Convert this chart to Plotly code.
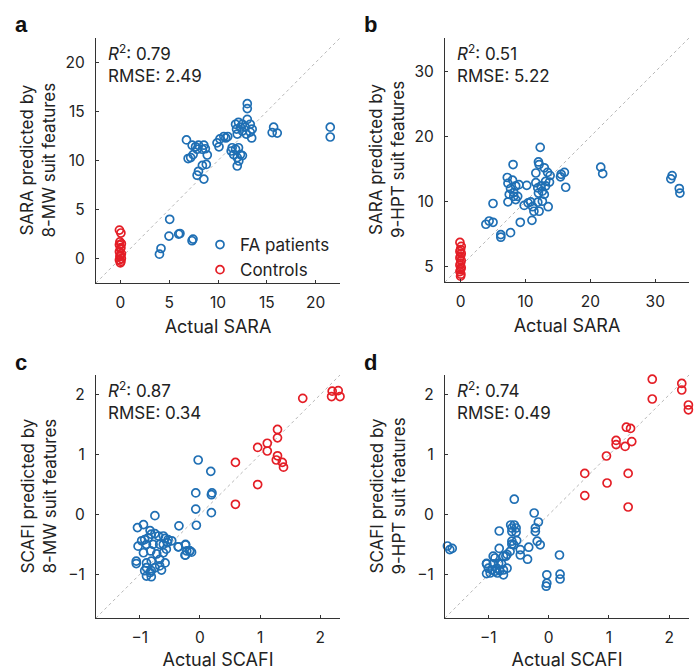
import plotly.graph_objects as go

# ---------------- Data ----------------
# Panel a: SARA predicted by 8-MW suit features
a_fa_x = [4.0, 4.16, 5.05, 4.98, 5.97, 6.1, 7.34, 7.44,
          6.77, 7.35, 7.7, 8.0, 8.55, 7.86, 8.4, 8.7, 7.45, 7.2, 6.94, 8.9, 8.4, 8.8, 8.0, 7.86, 8.55,
          9.9, 10.2, 10.6, 11.0, 10.1, 10.8, 11.45, 11.35, 11.8, 12.1, 11.6, 12.3, 11.97, 12.5, 12.13, 11.97,
          11.8, 12.1, 12.5, 11.9, 12.3, 11.97, 12.5, 12.8, 13.0, 13.0, 13.0, 13.3, 13.5, 13.3, 13.45, 12.9,
          15.7, 15.55, 16.07, 21.5, 21.5]
a_fa_y = [0.44, 1.02, 4.0, 2.29, 2.49, 2.55, 1.81, 1.98,
          12.1, 11.56, 11.4, 11.56, 11.56, 11.15, 11.15, 11.2, 10.6, 10.3, 10.2, 10.56, 9.5, 9.6, 8.9, 8.5, 8.1,
          11.8, 12.2, 12.45, 12.45, 11.4, 12.3, 11.3, 10.97, 11.15, 11.3, 10.6, 10.6, 10.3, 10.5, 9.95, 9.44,
          13.7, 13.9, 13.7, 13.2, 13.4, 12.7, 13.0, 13.4, 15.8, 15.3, 14.2, 13.7, 13.2, 12.9, 12.3, 12.7,
          13.4, 12.85, 12.8, 13.4, 12.4]
a_ct_x = [-0.1, 0.05, -0.05, 0.1, -0.1, 0.05, 0.0, -0.1, 0.1, 0.0, -0.05, 0.1, -0.1, 0.05, 0.0]
a_ct_y = [2.9, 2.6, 1.7, 1.5, 1.4, 1.1, 1.0, 0.7, 0.5, 0.35, 0.2, 0.0, -0.15, -0.3, -0.45]

# Panel b: SARA predicted by 9-HPT suit features
b_fa_x = [12.27, 8.09, 12.0, 12.1, 12.9, 13.4, 11.6, 13.8, 15.5, 16.0, 15.4, 16.2,
          7.2, 7.3, 8.0, 8.5, 9.0, 10.2, 7.7, 8.2, 7.5, 8.8, 8.5, 7.3, 8.2,
          11.6, 11.9, 12.4, 12.6, 13.1, 13.1, 12.0, 12.9, 13.7,
          10.4, 10.8, 9.8, 11.9, 12.6, 11.1, 11.3, 12.1, 13.5, 11.0,
          5.0, 9.2, 7.7, 6.2, 6.2, 4.4, 3.9, 5.0,
          21.6, 21.9, 32.6, 32.4, 33.7, 33.8]
b_fa_y = [18.35, 15.7, 16.1, 15.7, 15.2, 14.5, 14.4, 14.0, 14.2, 14.5, 13.8, 12.2,
          13.7, 12.8, 13.3, 12.4, 12.6, 12.5, 12.0, 11.4, 11.1, 10.8, 10.3, 9.95, 10.8,
          12.9, 12.1, 12.4, 11.6, 13.1, 12.4, 11.3, 11.1, 13.0,
          9.8, 9.95, 9.4, 9.9, 10.05, 9.2, 8.5, 8.5, 9.2, 7.1,
          9.7, 6.8, 5.2, 4.9, 4.5, 7.0, 6.5, 6.8,
          15.3, 14.3, 14.0, 13.5, 12.0, 11.3]
b_ct_x = [-0.1, 0.1, 0.0, -0.1, 0.1, 0.0, -0.1, 0.1, 0.0, -0.1, 0.1, 0.0, -0.1, 0.05, 0.0]
b_ct_y = [3.7, 3.1, 2.6, 2.3, 2.0, 1.6, 1.3, 0.9, 0.5, 0.2, -0.2, -0.5, -0.8, -1.2, -1.5]

# Panel c: SCAFI predicted by 8-MW suit features
c_fa_x = [-0.03, 0.18, -0.07, 0.19, 0.2, -0.07, 0.19, -0.06, -0.35, -0.75, -0.36, -0.24, -0.24, -0.17, -0.14,
          -1.04, -0.94, -0.83, -0.81, -0.75, -0.69, -0.61, -0.58, -0.47, -0.53, -0.86, -0.92, -0.97, -1.03,
          -0.89, -0.78, -0.67, -0.61, -0.54, -0.36, -0.24, -0.22, -0.17, -0.25, -0.94, -0.82, -0.72, -0.61,
          -0.56, -1.06, -1.06, -0.89, -0.81, -0.67, -0.58, -0.89, -0.83, -0.89, -0.81, -0.75, -0.64, -0.67,
          -0.81, -0.92]
c_fa_y = [0.91, 0.72, 0.36, 0.33, 0.36, 0.09, 0.03, -0.18, -0.19, -0.02, -0.54, -0.51, -0.68, -0.61, -0.63,
          -0.22, -0.17, -0.27, -0.33, -0.32, -0.36, -0.36, -0.4, -0.44, -0.42, -0.39, -0.42, -0.44, -0.53,
          -0.5, -0.5, -0.5, -0.5, -0.47, -0.54, -0.5, -0.61, -0.61, -0.68, -0.64, -0.61, -0.66, -0.64,
          -0.58, -0.78, -0.82, -0.81, -0.78, -0.75, -0.81, -0.89, -0.97, -1.03, -0.94, -0.89, -0.93, -0.86,
          -1.04, -0.94]
c_ct_x = [2.2, 2.3, 2.19, 2.33, 1.71, 1.29, 1.29, 1.12, 1.12, 0.96, 1.29, 1.27, 1.37, 1.39, 0.96, 0.59, 0.59]
c_ct_y = [2.06, 2.07, 1.97, 1.97, 1.94, 1.42, 1.28, 1.19, 1.06, 1.12, 0.98, 0.91, 0.87, 0.79, 0.5, 0.87, 0.17]

# Panel d: SCAFI predicted by 9-HPT suit features
d_fa_x = [-0.57, -0.24, -0.17, -0.22, -0.22, -0.19, -0.14, -0.33, -0.35, 0.18, -0.03, -0.03, -0.04, 0.19, 0.19,
          -1.68, -1.64, -1.6, -0.82, -0.63, -0.57, -0.61, -0.54, -0.61, -0.54, -0.61, -0.58, -0.53, -0.61,
          -0.47, -0.47, -0.64, -0.69, -0.75, -0.82, -0.89, -0.92, -1.03, -1.0, -0.92, -0.86, -0.81, -0.75,
          -0.83, -0.89, -0.75, -0.78, -0.97, -0.69, -0.94, -0.85, -1.03, -1.03, -0.71]
d_fa_y = [0.26, 0.03, -0.12, -0.22, -0.28, -0.44, -0.5, -0.54, -0.74, -0.67, -1.0, -1.14, -1.19, -0.99, -1.07,
          -0.52, -0.58, -0.56, -0.27, -0.17, -0.17, -0.22, -0.22, -0.28, -0.29, -0.44, -0.5, -0.43, -0.49,
          -0.58, -0.67, -0.61, -0.66, -0.69, -0.56, -0.72, -0.69, -0.81, -0.89, -0.82, -0.89, -0.93, -0.92,
          -0.81, -0.94, -1.0, -0.82, -0.97, -0.89, -0.92, -0.97, -0.82, -0.98, -0.69]
d_ct_x = [1.72, 2.21, 2.21, 2.32, 2.32, 1.72, 1.29, 1.36, 1.12, 1.12, 1.27, 1.38, 0.96, 0.6, 1.32, 0.97, 0.6, 1.32]
d_ct_y = [2.26, 2.19, 2.08, 1.83, 1.75, 1.93, 1.46, 1.44, 1.24, 1.17, 1.14, 1.22, 0.98, 0.69, 0.69, 0.53, 0.32, 0.13]

panel_letters = ["a", "b", "c", "d"]
stats_text = [("0.79", "2.49"), ("0.51", "5.22"), ("0.87", "0.34"), ("0.74", "0.49")]
x_titles = ["Actual SARA", "Actual SARA", "Actual SCAFI", "Actual SCAFI"]
y_titles = ["SARA predicted by<br>8-MW suit features", "SARA predicted by<br>9-HPT suit features",
            "SCAFI predicted by<br>8-MW suit features", "SCAFI predicted by<br>9-HPT suit features"]
x_tickvals = [[0, 5, 10, 15, 20], [0, 10, 20, 30], [-1, 0, 1, 2], [-1, 0, 1, 2]]
x_ticktext = [["0", "5", "10", "15", "20"], ["0", "10", "20", "30"], ["−1", "0", "1", "2"], ["−1", "0", "1", "2"]]
y_tickvals = [[0, 5, 10, 15, 20], [0, 10, 20, 30], [-1, 0, 1, 2], [-1, 0, 1, 2]]
y_ticktext = [["0", "5", "10", "15", "20"], ["5", "10", "20", "30"], ["−1", "0", "1", "2"], ["−1", "0", "1", "2"]]
ranges = [[-2.5, 22.5], [-2.4, 35.2], [-1.73, 2.33], [-1.72, 2.33]]

# ---------------- Layout geometry ----------------
W, H = 699, 670
FONT = "Inter"
BLUE = "#1f6fb4"
RED = "#e41e26"
AX = "#333333"
TXT = "#222222"

px_boxes = [(96, 340, 38, 283), (445, 689, 38, 282), (96, 340, 375, 618), (445, 689, 375, 618)]

fig = go.Figure()
data_sets = [(a_fa_x, a_fa_y, a_ct_x, a_ct_y), (b_fa_x, b_fa_y, b_ct_x, b_ct_y),
             (c_fa_x, c_fa_y, c_ct_x, c_ct_y), (d_fa_x, d_fa_y, d_ct_x, d_ct_y)]

layout = dict(
    width=W, height=H, margin=dict(l=0, r=0, t=0, b=0),
    paper_bgcolor="white", plot_bgcolor="white",
    font=dict(family=FONT, color=AX, size=15),
    showlegend=True,
    legend=dict(x=200 / W, y=1 - 227 / H, xanchor="left", yanchor="top",
                font=dict(size=17, color=TXT), bgcolor="rgba(0,0,0,0)",
                tracegroupgap=0, itemwidth=30),
)
annotations = []
shapes = []
for i, (fx, fy, cx, cy) in enumerate(data_sets):
    n = "" if i == 0 else str(i + 1)
    xa, ya = "x" + n, "y" + n
    fig.add_trace(go.Scatter(x=fx, y=fy, mode="markers", name="FA patients", xaxis=xa, yaxis=ya,
                             showlegend=(i == 0), cliponaxis=False,
                             marker=dict(symbol="circle-open", size=8, color=BLUE, line=dict(width=1.7, color=BLUE))))
    fig.add_trace(go.Scatter(x=cx, y=cy, mode="markers", name="Controls", xaxis=xa, yaxis=ya,
                             showlegend=(i == 0), cliponaxis=False,
                             marker=dict(symbol="circle-open", size=8, color=RED, line=dict(width=1.7, color=RED))))
    x0, x1, y0, y1 = px_boxes[i]
    r = ranges[i]
    axcommon = dict(range=r, showgrid=False, zeroline=False, showline=True, linecolor=AX, linewidth=1.3,
                    ticks="inside", ticklen=3, tickwidth=1, tickcolor=AX,
                    tickfont=dict(size=15.5, color=TXT), fixedrange=True)
    layout["xaxis" + n] = dict(axcommon, domain=[x0 / W, x1 / W], anchor=ya,
                               tickvals=x_tickvals[i], ticktext=x_ticktext[i],
                               ticklabelstandoff=5,
                               title=dict(text=x_titles[i], font=dict(size=18, color=TXT), standoff=9))
    layout["yaxis" + n] = dict(axcommon, domain=[1 - y1 / H, 1 - y0 / H], anchor=xa,
                               tickvals=y_tickvals[i], ticktext=y_ticktext[i],
                               ticklabelstandoff=7)
    # y-axis title as rotated annotation
    annotations.append(dict(text=y_titles[i], xref="paper", yref="paper",
                            x=(x0 - 58) / W, y=1 - ((y0 + y1) / 2) / H, textangle=-90,
                            showarrow=False, xanchor="center", yanchor="middle",
                            font=dict(size=17, color=TXT), align="center"))
    # panel letter
    annotations.append(dict(text="<b>" + panel_letters[i] + "</b>", xref="paper", yref="paper",
                            x=(x0 - 83) / W, y=1 - (y0 - 13) / H, showarrow=False,
                            xanchor="left", yanchor="middle",
                            font=dict(size=22, color="#111", family="Liberation Sans")))
    # stats
    r2, rmse = stats_text[i]
    annotations.append(dict(text="<i>R</i><sup>2</sup>: " + r2 + "<br>RMSE: " + rmse,
                            xref="paper", yref="paper", x=(x0 + 10) / W, y=1 - (y0 + 1) / H,
                            showarrow=False, xanchor="left", yanchor="top", align="left",
                            font=dict(size=17, color=TXT)))
    # identity line
    shapes.append(dict(type="line", xref=xa, yref=ya, x0=r[0], y0=r[0], x1=r[1], y1=r[1],
                       line=dict(color="#b8b8b8", width=1, dash="dot"), layer="below"))

layout["annotations"] = annotations
layout["shapes"] = shapes
fig.update_layout(**layout)
fig.write_html("out.html", config={"displayModeBar": False},
               post_script="document.body.style.margin='0';document.body.style.padding='0';")
